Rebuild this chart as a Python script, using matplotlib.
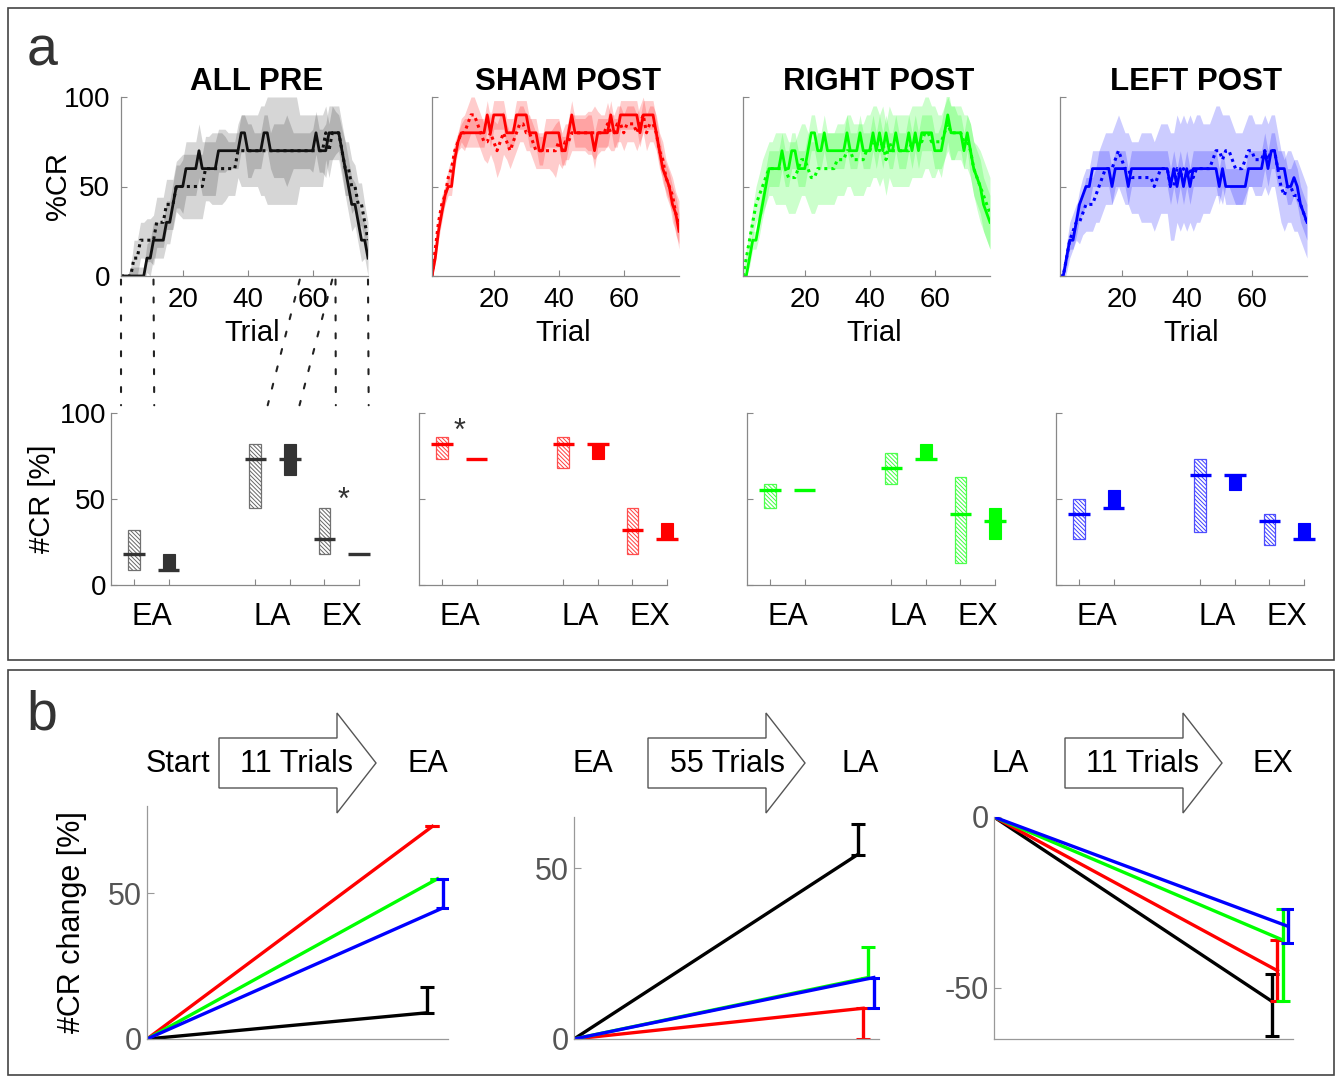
import numpy as np
import matplotlib.pyplot as plt
from matplotlib.patches import Rectangle, Polygon, ConnectionPatch
from matplotlib.colors import to_rgb

plt.rcParams['font.family'] = ['Liberation Sans', 'DejaVu Sans']
plt.rcParams['hatch.linewidth'] = 0.7
plt.rcParams['axes.unicode_minus'] = False

W, H = 1339, 1079

# ---------------- data: panel a, learning curves (%CR per trial) ----------------
trials = np.arange(1, 78)
groups = ["ALL PRE", "SHAM POST", "RIGHT POST", "LEFT POST"]
line_colors = ["#111111", "#ff0000", "#00ff00", "#0000ff"]
band_colors = ["#000000", "#ff0000", "#00ff00", "#0000ff"]
box_colors = ["#333333", "#ff0000", "#00ff00", "#0000ff"]

pre_solid = [0, 0, 0, 0, 0, 0, 0, 0, 10, 10,
             20, 20, 20, 20, 30, 30, 40, 50, 50, 50,
             60, 60, 60, 60, 70, 60, 60, 60, 60, 60,
             70, 70, 70, 70, 70, 70, 70, 80, 80, 70,
             70, 70, 70, 70, 80, 80, 70, 70, 70, 70,
             70, 70, 70, 70, 70, 70, 70, 70, 70, 70,
             80, 70, 70, 70, 80, 80, 80, 80, 70, 60,
             50, 40, 40, 30, 20, 20, 10]
pre_dotted = [0, 0, 0, 0, 10, 10, 20, 20, 20, 20,
              20, 30, 30, 30, 40, 40, 40, 50, 50, 50,
              50, 50, 50, 50, 50, 50, 60, 60, 60, 60,
              60, 60, 60, 60, 60, 60, 70, 70, 70, 70,
              70, 70, 70, 70, 70, 70, 70, 70, 70, 70,
              70, 70, 70, 70, 70, 70, 70, 70, 70, 70,
              70, 70, 70, 80, 70, 80, 80, 80, 70, 60,
              60, 50, 50, 40, 40, 30, 20]
pre_sem_s = [0, 0, 0, 5, 5, 5, 5, 5, 8, 10,
             10, 10, 10, 10, 12, 12, 12, 12, 12, 15,
             15, 15, 15, 15, 15, 15, 15, 15, 15, 15,
             12, 12, 12, 10, 10, 10, 10, 10, 10, 15,
             15, 10, 10, 10, 10, 10, 10, 15, 15, 15,
             15, 20, 15, 10, 10, 10, 10, 10, 10, 12,
             12, 12, 12, 15, 15, 15, 12, 10, 12, 15,
             15, 15, 12, 12, 12, 10, 10]
pre_sem_d = [0, 0, 0, 5, 10, 10, 10, 10, 12, 12,
             14, 14, 14, 14, 14, 14, 14, 14, 16, 18,
             18, 18, 18, 18, 18, 18, 18, 18, 20, 20,
             20, 20, 18, 15, 15, 15, 15, 20, 20, 20,
             20, 20, 20, 25, 25, 30, 30, 30, 30, 30,
             30, 30, 30, 30, 30, 20, 20, 20, 20, 20,
             20, 20, 20, 15, 15, 15, 15, 15, 15, 15,
             15, 15, 12, 12, 12, 10, 10]

sham_solid = [0, 10, 25, 35, 45, 50, 50, 65, 75, 80,
              80, 80, 80, 80, 80, 80, 80, 90, 80, 90,
              90, 90, 90, 80, 80, 80, 90, 90, 90, 90,
              80, 80, 80, 70, 70, 80, 80, 80, 80, 80,
              70, 70, 80, 90, 80, 80, 80, 80, 80, 80,
              70, 80, 80, 80, 80, 90, 80, 80, 90, 90,
              90, 90, 90, 90, 80, 90, 90, 90, 90, 80,
              70, 60, 55, 50, 40, 35, 25]
sham_dotted = [0, 15, 30, 40, 45, 55, 60, 70, 75, 80,
               80, 85, 90, 90, 85, 80, 75, 75, 80, 75,
               70, 75, 80, 75, 70, 75, 80, 85, 85, 80,
               80, 75, 70, 70, 70, 70, 70, 70, 70, 75,
               70, 75, 75, 80, 80, 80, 80, 80, 80, 80,
               80, 80, 80, 80, 85, 80, 80, 85, 85, 80,
               85, 85, 85, 80, 85, 90, 80, 85, 85, 80,
               70, 65, 55, 50, 45, 35, 30]
sham_sem_s = [0, 3, 5, 5, 5, 5, 5, 5, 5, 5,
              8, 8, 8, 8, 8, 8, 8, 8, 8, 8,
              8, 8, 8, 8, 8, 8, 8, 8, 8, 8,
              8, 8, 8, 8, 8, 8, 8, 8, 8, 8,
              8, 8, 8, 8, 8, 8, 8, 8, 10, 10,
              10, 8, 8, 8, 8, 8, 8, 8, 8, 8,
              8, 8, 8, 8, 8, 8, 8, 8, 8, 8,
              8, 8, 8, 8, 10, 10, 10]
sham_sem_d = [0, 5, 5, 5, 5, 5, 5, 5, 5, 8,
              10, 10, 10, 10, 10, 10, 10, 12, 12, 12,
              15, 15, 12, 10, 10, 10, 10, 10, 10, 10,
              10, 10, 10, 10, 10, 10, 10, 12, 15, 12,
              10, 10, 10, 10, 10, 10, 10, 10, 12, 12,
              15, 12, 10, 10, 12, 10, 10, 10, 10, 10,
              10, 10, 10, 10, 10, 10, 10, 10, 10, 10,
              10, 10, 10, 10, 10, 12, 12]

right_solid = [0, 0, 10, 20, 20, 30, 40, 50, 60, 60,
               60, 60, 70, 60, 60, 70, 70, 60, 60, 60,
               70, 80, 80, 70, 70, 80, 70, 70, 70, 70,
               70, 70, 80, 70, 70, 70, 80, 70, 70, 70,
               80, 70, 80, 70, 80, 70, 70, 80, 70, 70,
               70, 80, 70, 80, 70, 80, 80, 80, 80, 70,
               70, 70, 80, 90, 80, 80, 80, 80, 70, 80,
               70, 60, 55, 50, 40, 35, 30]
right_dotted = [0, 10, 20, 30, 40, 45, 50, 55, 60, 60,
                60, 60, 60, 60, 55, 55, 55, 60, 65, 65,
                60, 55, 55, 60, 60, 60, 60, 60, 60, 65,
                65, 65, 70, 70, 65, 65, 65, 65, 70, 70,
                75, 75, 70, 75, 65, 75, 70, 70, 70, 70,
                70, 70, 75, 75, 75, 75, 80, 80, 75, 75,
                75, 75, 80, 85, 80, 80, 80, 80, 75, 75,
                70, 60, 55, 50, 45, 40, 35]
right_sem_s = [0, 0, 5, 5, 5, 8, 8, 10, 10, 10,
               10, 10, 10, 10, 10, 10, 10, 10, 10, 10,
               10, 10, 10, 10, 10, 10, 10, 10, 10, 10,
               10, 10, 10, 10, 10, 10, 10, 10, 10, 10,
               10, 10, 10, 10, 10, 10, 10, 10, 10, 10,
               10, 10, 10, 10, 10, 10, 10, 10, 10, 10,
               10, 15, 15, 15, 15, 15, 10, 10, 10, 10,
               15, 15, 15, 15, 15, 15, 15]
right_sem_d = [0, 5, 5, 8, 10, 12, 15, 15, 15, 15,
               20, 20, 20, 20, 20, 20, 20, 20, 20, 20,
               20, 20, 20, 20, 20, 20, 20, 20, 20, 20,
               20, 20, 20, 20, 20, 20, 20, 20, 20, 20,
               20, 20, 20, 20, 20, 20, 20, 20, 20, 20,
               20, 20, 20, 20, 20, 20, 20, 20, 20, 20,
               15, 15, 15, 15, 15, 15, 15, 15, 15, 15,
               15, 15, 18, 20, 20, 20, 20]

left_solid = [0, 0, 10, 20, 20, 30, 40, 45, 50, 50,
              60, 60, 60, 60, 60, 60, 50, 60, 60, 60,
              60, 50, 60, 60, 60, 60, 60, 60, 60, 60,
              60, 60, 60, 60, 50, 60, 50, 60, 50, 60,
              50, 60, 60, 60, 60, 60, 60, 60, 60, 50,
              60, 50, 50, 50, 50, 50, 50, 50, 60, 60,
              60, 60, 60, 70, 60, 70, 70, 60, 60, 60,
              50, 50, 55, 50, 40, 35, 30]
left_dotted = [0, 0, 10, 20, 25, 30, 30, 35, 40, 40,
               40, 45, 50, 55, 60, 60, 60, 65, 70, 65,
               60, 60, 55, 55, 55, 55, 55, 55, 55, 50,
               55, 60, 60, 60, 50, 50, 60, 55, 60, 55,
               60, 55, 60, 60, 60, 60, 60, 65, 70, 70,
               65, 70, 70, 65, 60, 60, 60, 65, 70, 70,
               65, 65, 65, 70, 65, 70, 70, 60, 50, 45,
               50, 50, 45, 45, 40, 35, 30]
left_sem_s = [0, 0, 5, 5, 5, 8, 8, 10, 10, 10,
              10, 10, 10, 10, 10, 10, 10, 10, 10, 10,
              10, 10, 10, 10, 10, 10, 10, 10, 10, 10,
              10, 10, 10, 10, 10, 10, 10, 10, 10, 10,
              10, 10, 10, 10, 10, 10, 10, 10, 10, 10,
              10, 10, 10, 10, 10, 10, 10, 10, 10, 10,
              10, 10, 10, 10, 10, 10, 10, 10, 10, 10,
              10, 10, 10, 10, 10, 10, 10]
left_sem_d = [0, 5, 8, 10, 10, 10, 12, 12, 15, 15,
              15, 15, 20, 20, 20, 20, 20, 20, 20, 20,
              20, 20, 20, 20, 20, 25, 25, 25, 25, 25,
              25, 25, 25, 25, 30, 30, 30, 30, 30, 30,
              30, 30, 30, 30, 25, 25, 25, 25, 25, 25,
              25, 20, 20, 20, 20, 20, 20, 20, 20, 20,
              20, 20, 20, 20, 20, 20, 20, 20, 20, 20,
              20, 20, 20, 20, 20, 20, 20]

curves = [(pre_solid, pre_dotted, pre_sem_s, pre_sem_d),
          (sham_solid, sham_dotted, sham_sem_s, sham_sem_d),
          (right_solid, right_dotted, right_sem_s, right_sem_d),
          (left_solid, left_dotted, left_sem_s, left_sem_d)]

# ---------------- data: panel a, #CR boxes (low, median, high) ----------------
phases = ["EA", "LA", "EX"]
box_pos = [1, 2, 4.5, 5.5, 6.5, 7.5]      # pre / post for each phase
pre_boxes = [(9, 18, 32), (9, 9, 18), (45, 73, 82), (64, 73, 82), (18, 27, 45), (18, 18, 18)]
sham_boxes = [(73, 82, 86), (73, 73, 73), (68, 82, 86), (73, 82, 82), (18, 32, 45), (27, 27, 36)]
right_boxes = [(45, 55, 59), (55, 55, 55), (59, 68, 77), (73, 73, 82), (13, 41, 63), (27, 37, 45)]
left_boxes = [(27, 41, 50), (45, 45, 55), (31, 64, 73), (55, 64, 64), (23, 37, 41), (27, 27, 36)]
all_boxes = [pre_boxes, sham_boxes, right_boxes, left_boxes]

# window of trials shown for EA / LA / EX
link_trials = [1, 11, 56, 66, 67, 77]
link_bottom = [0.62, 1.58, 4.86, 5.78, 6.83, 7.78]

# ---------------- data: panel b, #CR change ----------------
b_titles = [("Start", "11 Trials", "EA"), ("EA", "55 Trials", "LA"), ("LA", "11 Trials", "EX")]
b_colors = ["#000000", "#ff0000", "#00ff00", "#0000ff"]
b_end_x = [0.93, 0.948, 0.965, 0.983]
b_values = [[9, 73, 55, 45], [54, 9, 18, 18], [-54, -45, -36, -32]]
b_err_lo = [[0, 0, 0, 0], [0, 9, 0, 9], [10, 9, 18, 5]]
b_err_hi = [[9, 0, 0, 10], [9, 0, 9, 0], [8, 9, 9, 5]]
b_ylims = [(0, 80), (0, 65), (-65, 0)]
b_yticks = [[0, 50], [0, 50], [-50, 0]]


def fx(px):
    return px / W


def fy(py):
    return 1 - py / H


def lighten(c, f=0.45):
    r, g, b = to_rgb(c)
    return (1 - f * (1 - r), 1 - f * (1 - g), 1 - f * (1 - b))


def style_axes(ax, spine_color="#888888"):
    for s in ["top", "right"]:
        ax.spines[s].set_visible(False)
    for s in ["left", "bottom"]:
        ax.spines[s].set_color(spine_color)
        ax.spines[s].set_linewidth(0.9)
    ax.tick_params(direction="in", length=4, color=spine_color)


fig = plt.figure(figsize=(W / 100, H / 100), dpi=100)

# panel frames
fig.add_artist(Rectangle((fx(8), fy(660)), fx(1326), 652 / H, transform=fig.transFigure,
                         fill=False, ec="#444444", lw=1.2))
fig.add_artist(Rectangle((fx(8), fy(1075)), fx(1326), 405 / H, transform=fig.transFigure,
                         fill=False, ec="#444444", lw=1.2))
fig.text(fx(42), fy(52), "a", fontsize=40, color="#333333", ha="center", va="center")
fig.text(fx(42), fy(716), "b", fontsize=40, color="#333333", ha="center", va="center")

top_left = [121, 432, 743, 1060]
bot_left = [111, 419, 747, 1056]
top_axes, bot_axes = [], []

for k in range(4):
    # learning curves
    ax = fig.add_axes([fx(top_left[k]), fy(276), 247 / W, 179 / H])
    solid, dotted, sem_s, sem_d = [np.array(a, dtype=float) for a in curves[k]]
    a = 0.16 if k == 0 else 0.2
    ax.fill_between(trials, solid - sem_s, solid + sem_s, color=band_colors[k], alpha=a, lw=0)
    ax.fill_between(trials, dotted - sem_d, dotted + sem_d, color=band_colors[k], alpha=a, lw=0)
    ax.plot(trials, dotted, color=line_colors[k], lw=2.2, ls=(0, (1, 1.3)))
    ax.plot(trials, solid, color=line_colors[k], lw=2.0)
    ax.set_xlim(1, 77)
    ax.set_ylim(0, 100)
    style_axes(ax)
    ax.set_xticks([20, 40, 60])
    ax.set_yticks([0, 50, 100])
    ax.tick_params(labelsize=20, pad=8)
    if k == 0:
        ax.set_ylabel("%CR", fontsize=21)
        ax.yaxis.set_label_coords(-0.2, 0.5)
    else:
        ax.set_yticklabels([])
    ax.set_xlabel("Trial", fontsize=21)
    ax.xaxis.set_label_coords(0.53, -0.24)
    ax.set_title(groups[k], fontsize=22.5, fontweight="bold", x=0.55, pad=-2)
    top_axes.append(ax)

    # #CR boxes
    bx = fig.add_axes([fx(bot_left[k]), fy(585), 248 / W, 172 / H])
    c = box_colors[k]
    for i, (pos, (lo, med, hi)) in enumerate(zip(box_pos, all_boxes[k])):
        if i % 2 == 0:
            bx.add_patch(Rectangle((pos - 0.17, lo), 0.34, hi - lo, facecolor="white",
                                   edgecolor=lighten(c, 0.75), hatch="\\\\\\\\\\\\\\\\", lw=0,
                                   clip_on=False))
            bx.add_patch(Rectangle((pos - 0.17, lo), 0.34, hi - lo, fill=False,
                                   edgecolor=lighten(c, 0.7), lw=0.9, clip_on=False))
        else:
            bx.add_patch(Rectangle((pos - 0.17, lo), 0.34, hi - lo, facecolor=c,
                                   edgecolor=c, lw=0.8, clip_on=False))
        bx.plot([pos - 0.31, pos + 0.31], [med, med], color=c, lw=2.4,
                solid_capstyle="butt", clip_on=False)
    bx.set_xlim(0.33, 7.5)
    bx.set_ylim(0, 100)
    style_axes(bx)
    bx.set_xticks(box_pos)
    bx.set_xticklabels([])
    bx.set_xticks([1.5, 5, 7], minor=True)
    bx.set_xticklabels(phases, minor=True, fontsize=22)
    bx.tick_params(axis="x", which="minor", length=0, pad=12)
    bx.set_yticks([0, 50, 100])
    bx.tick_params(axis="y", labelsize=20)
    if k == 0:
        bx.set_ylabel("#CR [%]", fontsize=21)
        bx.yaxis.set_label_coords(-0.22, 0.5)
    else:
        bx.set_yticklabels([])
    bot_axes.append(bx)

# significance stars
bot_axes[0].text(7.05, 49, "*", fontsize=22, color="#333333", ha="center", va="center")
bot_axes[1].text(1.49, 89, "*", fontsize=22, color="#333333", ha="center", va="center")

# dotted links from trial windows to the box plots
for t, xb in zip(link_trials, link_bottom):
    cp = ConnectionPatch(xyA=(t, -0.02), coordsA=top_axes[0].get_xaxis_transform(),
                         xyB=(xb, 1.045), coordsB=bot_axes[0].get_xaxis_transform(),
                         color="#222222", lw=1.5, ls=(0, (2.4, 6.2)))
    fig.add_artist(cp)

# ---------------- panel b ----------------
b_rects = [(147, 806, 301, 233), (574, 817, 305, 222), (994, 817, 299, 222)]
arrows = [(219, 337, 376), (648, 766, 805), (1065, 1183, 1222)]
word_x = [(178, 297, 428), (593, 727, 860), (1010, 1143, 1273)]

for j in range(3):
    x0, ytop, w, h = b_rects[j]
    ax = fig.add_axes([fx(x0), fy(ytop + h), w / W, h / H])
    for c, ex, v, lo, hi in zip(b_colors, b_end_x, b_values[j], b_err_lo[j], b_err_hi[j]):
        ax.plot([0, ex], [0, v], color=c, lw=2.4)
        ax.errorbar([ex], [v], yerr=[[lo], [hi]], color=c, capsize=5, elinewidth=2.4,
                    capthick=2.2, fmt="none")
    ax.set_xlim(0, 1)
    ax.set_ylim(*b_ylims[j])
    style_axes(ax, "#999999")
    ax.set_xticks([])
    ax.set_yticks(b_yticks[j])
    ax.tick_params(axis="y", labelsize=22, labelcolor="#555555", length=5)
    if j == 0:
        ax.set_ylabel("#CR change [%]", fontsize=22)
        ax.yaxis.set_label_coords(-0.2, 0.5)

    a0, a1, a2 = arrows[j]
    pts = [(a0, 738), (a1, 738), (a1, 713), (a2, 763), (a1, 813), (a1, 788), (a0, 788)]
    fig.add_artist(Polygon([(fx(px), fy(py)) for px, py in pts], closed=True,
                           transform=fig.transFigure, facecolor="white",
                           edgecolor="#555555", lw=1.0))
    for txt, px in zip(b_titles[j], word_x[j]):
        fig.text(fx(px), fy(764), txt, fontsize=22, ha="center", va="center")

fig.savefig("out.png", dpi=100)
